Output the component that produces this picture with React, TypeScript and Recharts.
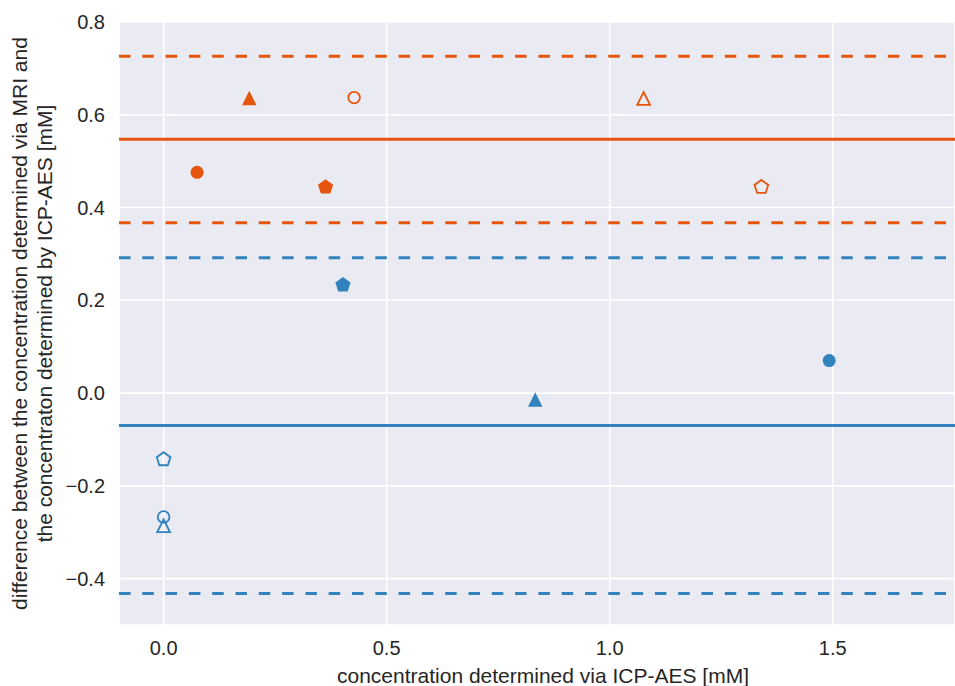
import React from "react";
import { ScatterChart, Scatter, XAxis, YAxis, CartesianGrid, ReferenceLine, Label } from "recharts";

// marker kinds shared by both series (same order of samples)
const markers = ["circle", "triangle", "circle", "pentagon", "triangle", "pentagon"];
const filled = [true, true, false, true, false, false];

const orangeX = [0.075, 0.192, 0.427, 0.363, 1.076, 1.34];
const orangeY = [0.476, 0.636, 0.637, 0.444, 0.635, 0.444];
const blueX = [1.492, 0.833, 0.0, 0.402, 0.0, 0.0];
const blueY = [0.07, -0.014, -0.267, 0.233, -0.286, -0.143];

const orangeMean = 0.547;
const orangeLimits = [0.367, 0.726];
const blueMean = -0.07;
const blueLimits = [-0.432, 0.292];

const xTicks = [0, 0.5, 1.0, 1.5];
const yTicks = [-0.4, -0.2, 0, 0.2, 0.4, 0.6, 0.8];

const ORANGE = "#e6550d";
const BLUE = "#3182bd";
const TEXT = "#262626";
const FONT = "'Liberation Sans', Arial, sans-serif";

const build = (xs: number[], ys: number[]) =>
  xs.map((x, i) => ({ x, y: ys[i], marker: markers[i], filled: filled[i] }));

const orangeData = build(orangeX, orangeY);
const blueData = build(blueX, blueY);

const fmt = (v: number) => (v < 0 ? "\u2212" : "") + Math.abs(v).toFixed(1);

function Marker(props: any) {
  const { cx, cy, payload, color } = props;
  if (cx == null || cy == null) return null;
  const open = !payload.filled;
  const sw = 1.8;
  const fill = open ? "none" : color;
  const stroke = open ? color : "none";
  if (payload.marker === "circle") {
    return <circle cx={cx} cy={cy} r={open ? 5.8 : 6.5} fill={fill} stroke={stroke} strokeWidth={sw} />;
  }
  if (payload.marker === "triangle") {
    const h = open ? 6.4 : 7.2;
    const pts = `${cx},${cy - h} ${cx - h},${cy + h} ${cx + h},${cy + h}`;
    return <polygon points={pts} fill={fill} stroke={stroke} strokeWidth={sw} strokeLinejoin="miter" />;
  }
  const r = open ? 7.2 : 8;
  const pts = [0, 1, 2, 3, 4]
    .map((k) => {
      const a = ((-90 + 72 * k) * Math.PI) / 180;
      return `${cx + r * Math.cos(a)},${cy + r * Math.sin(a)}`;
    })
    .join(" ");
  return <polygon points={pts} fill={fill} stroke={stroke} strokeWidth={sw} />;
}

const XTick = (props: any) => (
  <text x={props.x} y={props.y + 30} textAnchor="middle" fill={TEXT} fontSize={20} fontFamily={FONT}>
    {fmt(props.payload.value)}
  </text>
);

const YTick = (props: any) => (
  <text x={props.x - 14} y={props.y + 7} textAnchor="end" fill={TEXT} fontSize={20} fontFamily={FONT}>
    {fmt(props.payload.value)}
  </text>
);

export default function App() {
  return (
    <div style={{ position: "absolute", left: 0, top: 0, width: 955, height: 686, background: "#fff" }}>
      <ScatterChart width={955} height={686} margin={{ top: 22, right: 0, bottom: 0, left: 0 }}>
        <CartesianGrid fill="#eaeaf2" stroke="#ffffff" strokeWidth={1.6} />
        <XAxis
          type="number"
          dataKey="x"
          domain={[-0.1, 1.774]}
          ticks={xTicks}
          allowDataOverflow
          axisLine={false}
          tickLine={false}
          tickSize={0}
          tickMargin={0}
          height={61}
          tick={<XTick />}
        >
          <Label
            content={(p: any) => (
              <text
                x={p.viewBox.x + p.viewBox.width / 2 + 6}
                y={p.viewBox.y + 58}
                textAnchor="middle"
                fill={TEXT}
                fontSize={21}
                fontFamily={FONT}
              >
                concentration determined via ICP-AES [mM]
              </text>
            )}
          />
        </XAxis>
        <YAxis
          type="number"
          dataKey="y"
          domain={[-0.5, 0.8]}
          ticks={yTicks}
          allowDataOverflow
          axisLine={false}
          tickLine={false}
          tickSize={0}
          tickMargin={0}
          width={119}
          tick={<YTick />}
        >
          <Label
            content={(p: any) => {
              const cy = p.viewBox.y + p.viewBox.height / 2;
              return (
                <g fill={TEXT} fontSize={21} fontFamily={FONT}>
                  <text x={27} y={cy} transform={`rotate(-90 27 ${cy})`} textAnchor="middle">
                    difference between the concentration determined via MRI and
                  </text>
                  <text x={52} y={cy} transform={`rotate(-90 52 ${cy})`} textAnchor="middle">
                    the concentraton determined by ICP-AES [mM]
                  </text>
                </g>
              );
            }}
          />
        </YAxis>
        <ReferenceLine y={orangeLimits[1]} stroke={ORANGE} strokeWidth={3} strokeDasharray="11.5 11.8" />
        <ReferenceLine y={orangeMean} stroke={ORANGE} strokeWidth={3} />
        <ReferenceLine y={orangeLimits[0]} stroke={ORANGE} strokeWidth={3} strokeDasharray="11.5 11.8" />
        <ReferenceLine y={blueLimits[1]} stroke={BLUE} strokeWidth={3} strokeDasharray="11.5 11.8" />
        <ReferenceLine y={blueMean} stroke={BLUE} strokeWidth={3} />
        <ReferenceLine y={blueLimits[0]} stroke={BLUE} strokeWidth={3} strokeDasharray="11.5 11.8" />
        <Scatter data={orangeData} isAnimationActive={false} shape={(p: any) => <Marker {...p} color={ORANGE} />} />
        <Scatter data={blueData} isAnimationActive={false} shape={(p: any) => <Marker {...p} color={BLUE} />} />
      </ScatterChart>
    </div>
  );
}
